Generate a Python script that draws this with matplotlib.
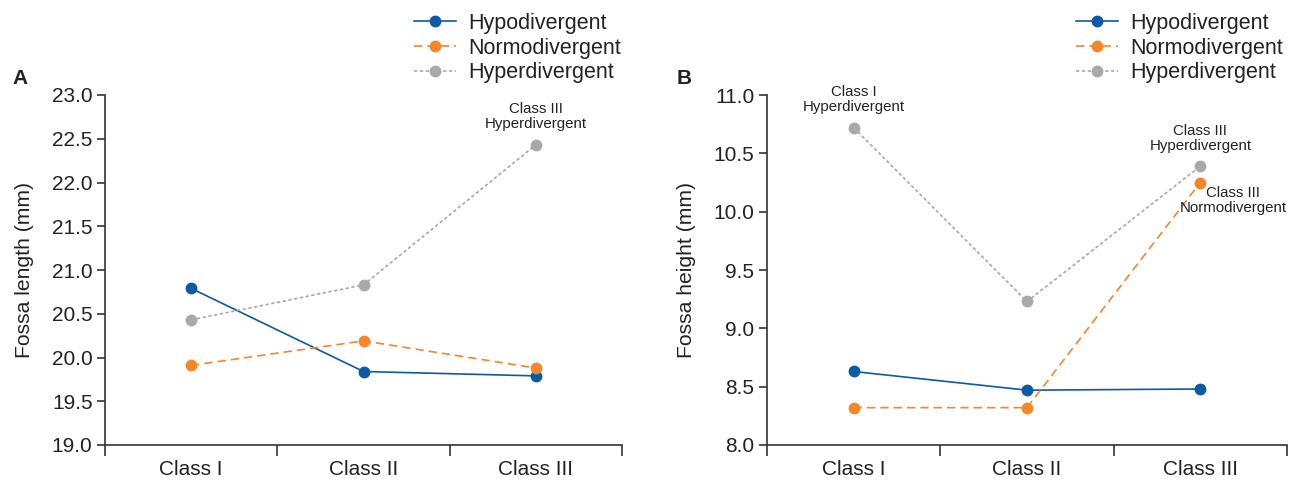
import matplotlib
matplotlib.use("Agg")
import matplotlib.pyplot as plt

plt.rcParams['font.family'] = ['Liberation Sans', 'DejaVu Sans']

categories = ["Class I", "Class II", "Class III"]
series = ["Hypodivergent", "Normodivergent", "Hyperdivergent"]

length_hypo = [20.79, 19.84, 19.79]
length_normo = [19.91, 20.19, 19.88]
length_hyper = [20.43, 20.83, 22.43]

height_hypo = [8.63, 8.47, 8.48]
height_normo = [8.32, 8.32, 10.25]
height_hyper = [10.72, 9.23, 10.39]

colors = ["#0b5aa6", "#f5862a", "#a9a9ab"]
styles = ["-", (0, (5, 3)), (0, (2, 1.5))]

fig = plt.figure(figsize=(12.92, 4.82), dpi=100)
W, H = 1292, 482

def make_ax(left, right, top, bottom):
    return fig.add_axes([left / W, 1 - bottom / H, (right - left) / W, (bottom - top) / H])

axA = make_ax(105, 622, 95, 445)
axB = make_ax(767, 1287, 95, 445)

def draw(ax, data, ylim, yticks, ylabel, letter, letter_x, leg_x):
    x = list(range(len(categories)))
    handles = []
    for vals, c, ls, name in zip(data, colors, styles, series):
        h, = ax.plot(x, vals, color=c, linestyle=ls, linewidth=1.2, marker='o',
                     markersize=7.5, label=name, zorder=3)
        handles.append(h)
    ax.set_xlim(-0.5, 2.5)
    ax.set_ylim(*ylim)
    ax.set_yticks(yticks)
    ax.set_yticklabels([f"{v:.1f}" for v in yticks])
    ax.set_xticks([-0.5, 0.5, 1.5, 2.5])
    ax.set_xticklabels([])
    ax.set_xticks(x, minor=True)
    ax.set_xticklabels(categories, minor=True)
    ax.tick_params(axis='x', which='minor', length=0, pad=11, labelsize=15, labelcolor='#222222')
    ax.tick_params(axis='x', which='major', length=8, width=1.2, direction='out', color='#333333')
    ax.tick_params(axis='y', length=6, width=1.2, direction='out', labelsize=15, pad=3,
                   color='#333333', labelcolor='#222222')
    for s in ['top', 'right']:
        ax.spines[s].set_visible(False)
    for s in ['left', 'bottom']:
        ax.spines[s].set_linewidth(1.2)
        ax.spines[s].set_color('#333333')
    ax.set_ylabel(ylabel, fontsize=15.2, labelpad=13, color='#222222')
    fig.text(letter_x, 1 - 79 / H, letter, fontsize=15, fontweight='bold',
             va='center', ha='left', color='#222222')
    ax.legend(handles=handles, loc='upper left', frameon=False, fontsize=15.5,
              bbox_to_anchor=(leg_x / W, 1 - 13 / H), bbox_transform=fig.transFigure,
              handlelength=1.95, handletextpad=0.55, labelspacing=0.17, borderaxespad=0,
              borderpad=0, labelcolor='#222222')
    return ax

draw(axA, [length_hypo, length_normo, length_hyper], (19.0, 23.0),
     [19.0, 19.5, 20.0, 20.5, 21.0, 21.5, 22.0, 22.5, 23.0],
     "Fossa length (mm)", "A", 12 / W, 414)
draw(axB, [height_hypo, height_normo, height_hyper], (8.0, 11.0),
     [8.0, 8.5, 9.0, 9.5, 10.0, 10.5, 11.0],
     "Fossa height (mm)", "B", 677 / W, 1076)

ann_kw = dict(fontsize=10.8, ha='center', linespacing=1.1, color='#222222',
              textcoords='offset pixels')
axA.annotate("Class III\nHyperdivergent", xy=(2, length_hyper[2]), xytext=(0, 14),
             va='bottom', **ann_kw)
axB.annotate("Class I\nHyperdivergent", xy=(0, height_hyper[0]), xytext=(0, 14),
             va='bottom', **ann_kw)
axB.annotate("Class III\nHyperdivergent", xy=(2, height_hyper[2]), xytext=(0, 13),
             va='bottom', **ann_kw)
axB.annotate("Class III\nNormodivergent", xy=(2, height_normo[2]), xytext=(33, -3),
             va='top', **ann_kw)

fig.savefig("out.png", dpi=100)
